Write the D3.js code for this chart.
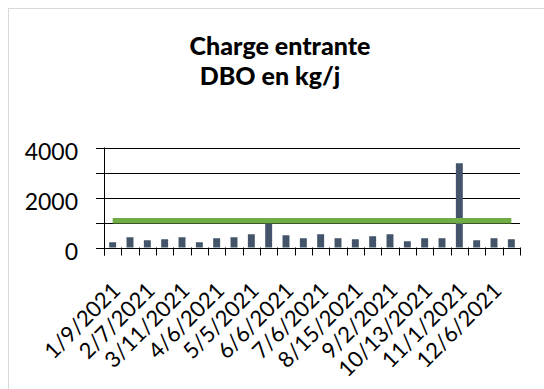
<!DOCTYPE html>
<html><head><meta charset="utf-8">
<script src="https://cdn.jsdelivr.net/npm/d3@7"></script>
<style>html,body{margin:0;padding:0;background:#fff;}svg{display:block;}</style>
</head><body>
<svg id="chart" width="544" height="389"></svg>
<script>
const titleLines = ["Charge entrante", "DBO en kg/j"];
const categories = ["1/9/2021","1/23/2021","2/7/2021","2/21/2021","3/11/2021","3/23/2021","4/6/2021","4/20/2021",
  "5/5/2021","5/19/2021","6/6/2021","6/20/2021","7/6/2021","7/20/2021","8/15/2021","8/24/2021",
  "9/2/2021","9/20/2021","10/13/2021","10/20/2021","11/1/2021","11/16/2021","12/6/2021","12/20/2021"];
const dboValues = [210,410,290,330,410,210,370,410,530,950,490,370,530,370,330,450,530,250,370,370,3370,290,370,330];
const limitValues = [1070,1070,1070,1070,1070,1070,1070,1070,1070,1070,1070,1070,1070,1070,1070,1070,1070,1070,1070,1070,1070,1070,1070,1070];
const yTickLabels = [0, 2000, 4000];
const yGridValues = [0, 1000, 2000, 3000, 4000];

const svg = d3.select("#chart");
const font = "Lato, 'Open Sans', sans-serif";

svg.append("rect").attr("x",0).attr("y",0).attr("width",544).attr("height",389).attr("fill","#fff");
svg.append("rect").attr("x",8.5).attr("y",8.5).attr("width",560).attr("height",400)
  .attr("fill","#fff").attr("stroke","#d9d9d9").attr("stroke-width",1);

// title
const titleX = [280, 270], titleY = [55, 85];
titleLines.forEach((t,i)=>{
  svg.append("text").attr("x",titleX[i]).attr("y",titleY[i]).attr("text-anchor","middle")
    .attr("font-family",font).attr("font-weight","900").attr("font-size",25).attr("fill","#000").text(t);
});

const pLeft = 104, pRight = 520, pTop = 147.5, pBottom = 247.5;
const x = d3.scaleBand().domain(categories).range([pLeft,pRight]).paddingInner(0.6).paddingOuter(0.3);
const y = d3.scaleLinear().domain([0,4000]).range([pBottom, pTop]);

// gridlines
svg.append("g").selectAll("line").data(yGridValues).join("line")
  .attr("x1",pLeft-8).attr("x2",pRight).attr("y1",d=>Math.round(y(d))+0.5).attr("y2",d=>Math.round(y(d))+0.5)
  .attr("stroke","#000").attr("stroke-width",1);

// y labels
svg.append("g").selectAll("text").data(yTickLabels).join("text")
  .attr("x",78).attr("y",d=>y(d)+12).attr("text-anchor","end")
  .attr("font-family",font).attr("font-size",23).attr("fill","#000").text(d=>d);

// bars
svg.append("g").selectAll("rect").data(dboValues).join("rect")
  .attr("x",(d,i)=>x(categories[i])).attr("width",x.bandwidth())
  .attr("y",d=>y(d)).attr("height",d=>y(0)-y(d)).attr("fill","#44546A");

// y axis line
svg.append("line").attr("x1",pLeft+0.5).attr("x2",pLeft+0.5).attr("y1",pTop).attr("y2",pBottom+8)
  .attr("stroke","#000").attr("stroke-width",1);

// x ticks at band boundaries
const step = x.step();
const bounds = d3.range(categories.length+1).map(i=>pLeft+i*step);
svg.append("g").selectAll("line").data(bounds).join("line")
  .attr("x1",d=>Math.round(d)+0.5).attr("x2",d=>Math.round(d)+0.5).attr("y1",pBottom).attr("y2",pBottom+8)
  .attr("stroke","#000").attr("stroke-width",1);

// limit line
const line = d3.line().x((d,i)=>x(categories[i])+x.bandwidth()/2).y(d=>y(d));
svg.append("path").datum(limitValues).attr("d",line).attr("fill","none")
  .attr("stroke","#70AD47").attr("stroke-width",5.3);

// x labels (every other category)
svg.append("g").selectAll("text").data(categories.filter((c,i)=>i%2===0)).join("text")
  .attr("transform",d=>`translate(${x(d)+x.bandwidth()/2+9},292) rotate(-45)`)
  .attr("text-anchor","end").attr("font-family",font).attr("font-size",22).attr("fill","#000").text(d=>d);
</script>
</body></html>
